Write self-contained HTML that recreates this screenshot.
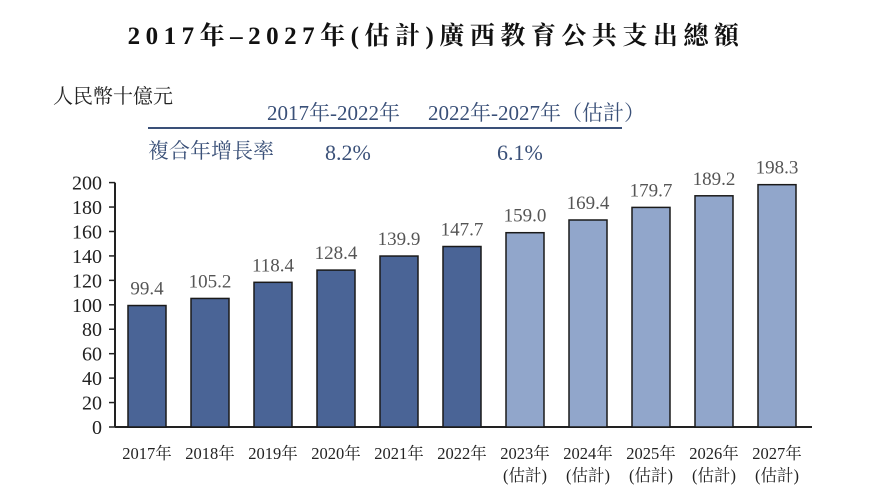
<!DOCTYPE html>
<html><head><meta charset="utf-8"><style>
body{margin:0;background:#fff;}
svg{display:block;font-family:"Liberation Serif","Noto Serif CJK SC",serif;}
</style></head><body>
<svg width="869" height="497" viewBox="0 0 869 497" xmlns="http://www.w3.org/2000/svg">
<text x="436" y="44" text-anchor="middle" font-size="25" font-weight="bold" letter-spacing="5.5" fill="#111">2017年–2027年(估計)廣西教育公共支出總額</text>
<text x="53" y="103" font-size="20" fill="#222">人民幣十億元</text>
<text x="267" y="120" font-size="21" fill="#3a5078">2017年-2022年</text>
<text x="428" y="120" font-size="21" fill="#3a5078">2022年-2027年（估計）</text>
<line x1="148" y1="128" x2="622" y2="128" stroke="#3a5078" stroke-width="2"/>
<text x="148" y="158" font-size="21" fill="#3a5078">複合年增長率</text>
<text x="325" y="160" font-size="22" fill="#3a5078">8.2%</text>
<text x="497" y="160" font-size="22" fill="#3a5078">6.1%</text>
<g id="plot"></g>
</svg>
<script>
const categories=["2017年","2018年","2019年","2020年","2021年","2022年","2023年","2024年","2025年","2026年","2027年"];
const values=[99.4,105.2,118.4,128.4,139.9,147.7,159.0,169.4,179.7,189.2,198.3];
const estimated=[false,false,false,false,false,false,true,true,true,true,true];
const yTicks=[0,20,40,60,80,100,120,140,160,180,200];
const NS="http://www.w3.org/2000/svg";
const g=document.getElementById('plot');
const y0=427,pxPer=1.222,x0=147,step=63,bw=38;
const yS=v=>y0-v*pxPer, xS=i=>x0+i*step;
function mk(t,a){const e=document.createElementNS(NS,t);for(const k in a)e.setAttribute(k,a[k]);g.appendChild(e);return e;}
let e=mk('line',{x1:115,y1:y0,x2:812,y2:y0,stroke:'#222','stroke-width':2});


e=mk('line',{x1:115,y1:yS(200),x2:115,y2:y0,stroke:'#222','stroke-width':2});


yTicks.forEach(v=>{
 let t=mk('line',{x1:109,y1:yS(v),x2:115,y2:yS(v),stroke:'#222','stroke-width':1.5});
 
 
 let l=mk('text',{x:102,y:yS(v)+7,'text-anchor':'end','font-size':20,fill:'#222'});l.textContent=v;
 
 
});
values.forEach((v,i)=>{
 let r=mk('rect',{x:xS(i)-bw/2,y:yS(v),width:bw,height:y0-yS(v),fill:estimated[i]?'#91a6cb':'#4a6496',stroke:'#1a1a1a','stroke-width':1.5});
 
 
 let t=mk('text',{x:xS(i),y:yS(v)-11,'text-anchor':'middle','font-size':19,fill:'#555'});t.textContent=v.toFixed(1);
 
 
 let c=mk('text',{x:xS(i),y:459,'text-anchor':'middle','font-size':16.5,fill:'#222'});c.textContent=categories[i];
 
 
 if(estimated[i]){let s=mk('text',{x:xS(i),y:481,'text-anchor':'middle','font-size':16.5,fill:'#222'});s.textContent='(估計)';
 
 }
});
</script>
</body></html>
